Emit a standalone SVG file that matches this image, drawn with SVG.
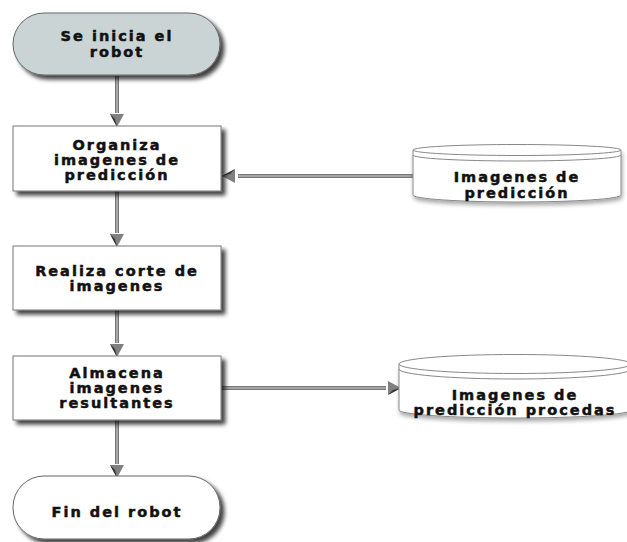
<svg xmlns="http://www.w3.org/2000/svg" width="627" height="542" viewBox="0 0 627 542">
  <defs>
    <filter id="shadow" x="-10%" y="-10%" width="130%" height="140%">
      <feGaussianBlur in="SourceAlpha" stdDeviation="2"/>
      <feOffset dx="4" dy="4" result="b"/>
      <feComponentTransfer><feFuncA type="linear" slope="0.75"/></feComponentTransfer>
      <feMerge><feMergeNode/><feMergeNode in="SourceGraphic"/></feMerge>
    </filter>
    <filter id="softshadow" x="-10%" y="-10%" width="130%" height="140%">
      <feGaussianBlur in="SourceAlpha" stdDeviation="2"/>
      <feOffset dx="1" dy="3" result="b"/>
      <feComponentTransfer><feFuncA type="linear" slope="0.35"/></feComponentTransfer>
      <feMerge><feMergeNode/><feMergeNode in="SourceGraphic"/></feMerge>
    </filter>
    <marker id="arrow" viewBox="0 0 14 14" refX="13" refY="7" markerWidth="14" markerHeight="14" markerUnits="userSpaceOnUse" orient="auto">
      <polygon points="0,0 13,7 0,14" fill="#808080"/>
      <polygon points="0,14 13,7 5,9" fill="#333"/>
    </marker>
  </defs>
  <style>
    .lbl { font-family: "DejaVu Sans", Verdana, sans-serif; font-weight: bold; font-size: 14.5px; letter-spacing: 2px; fill: #111; stroke: #111; stroke-width: 0.5px; text-anchor: middle; }
    .box { fill: #fff; stroke: #777; stroke-width: 1; }
    .db { fill: #fff; stroke: #888; stroke-width: 1; }
    .wire { fill: none; stroke: #777; stroke-width: 4; }
    .wire-in { fill: none; stroke: #b4b4b4; stroke-width: 1.6; }
  </style>

  <!-- connectors -->
  <g id="connectors">
    <path class="wire" d="M117,76 V113 M117,191 V233 M117,310 V343 M117,420 V464"/>
    <path class="wire-in" d="M117,76 V113 M117,191 V233 M117,310 V343 M117,420 V464"/>
    <path class="wire" d="M413,176 H238 M222,388 H386"/>
    <path class="wire-in" d="M413,176 H238 M222,388 H386"/>
    <line x1="117" y1="110" x2="117" y2="127" stroke="none" marker-end="url(#arrow)"/>
    <line x1="117" y1="230" x2="117" y2="247" stroke="none" marker-end="url(#arrow)"/>
    <line x1="117" y1="340" x2="117" y2="357" stroke="none" marker-end="url(#arrow)"/>
    <line x1="117" y1="461" x2="117" y2="478" stroke="none" marker-end="url(#arrow)"/>
    <line x1="240" y1="176" x2="222" y2="176" stroke="none" marker-end="url(#arrow)"/>
    <line x1="385" y1="388" x2="401" y2="388" stroke="none" marker-end="url(#arrow)"/>
  </g>

  <!-- start terminator -->
  <g id="start">
    <rect x="13" y="13" width="207" height="62" rx="31" ry="31" fill="#cad4d4" stroke="#666" filter="url(#shadow)"/>
    <text class="lbl" x="117" y="41">Se inicia el</text>
    <text class="lbl" x="117" y="57">robot</text>
  </g>

  <!-- process: organiza -->
  <g id="organiza">
    <rect class="box" x="13" y="126" width="208" height="65" filter="url(#shadow)"/>
    <text class="lbl" x="117" y="150">Organiza</text>
    <text class="lbl" x="117" y="165">imagenes de</text>
    <text class="lbl" x="117" y="180">predicción</text>
  </g>

  <!-- data store: imagenes de prediccion -->
  <g id="db-prediccion">
    <path class="db" d="M413,150 V195 A104,7 0 0 0 621,195 V150" filter="url(#softshadow)"/>
    <ellipse class="db" cx="517" cy="150" rx="104" ry="5.5"/>
    <path d="M413,155 A104,6 0 0 0 621,155" fill="none" stroke="#888"/>
    <text class="lbl" x="517" y="182">Imagenes de</text>
    <text class="lbl" x="517" y="198">predicción</text>
  </g>

  <!-- process: realiza corte -->
  <g id="realiza">
    <rect class="box" x="13" y="246" width="208" height="64" filter="url(#shadow)"/>
    <text class="lbl" x="117" y="276">Realiza corte de</text>
    <text class="lbl" x="117" y="291">imagenes</text>
  </g>

  <!-- process: almacena -->
  <g id="almacena">
    <rect class="box" x="13" y="356" width="208" height="64" filter="url(#shadow)"/>
    <text class="lbl" x="117" y="378">Almacena</text>
    <text class="lbl" x="117" y="393">imagenes</text>
    <text class="lbl" x="117" y="408">resultantes</text>
  </g>

  <!-- data store: imagenes procesadas -->
  <g id="db-procedas">
    <path class="db" d="M399,364 V410 A116,8 0 0 0 631,410 V364" filter="url(#softshadow)"/>
    <ellipse class="db" cx="515" cy="364" rx="116" ry="9.5"/>
    <path d="M399,369 A116,10 0 0 0 631,369" fill="none" stroke="#888"/>
    <text class="lbl" x="515" y="400">Imagenes de</text>
    <text class="lbl" x="515" y="415">predicción procedas</text>
  </g>

  <!-- end terminator -->
  <g id="end">
    <rect x="13" y="476" width="207" height="63" rx="31" ry="31" fill="#fff" stroke="#666" filter="url(#shadow)"/>
    <text class="lbl" x="117" y="517">Fin del robot</text>
  </g>
</svg>
